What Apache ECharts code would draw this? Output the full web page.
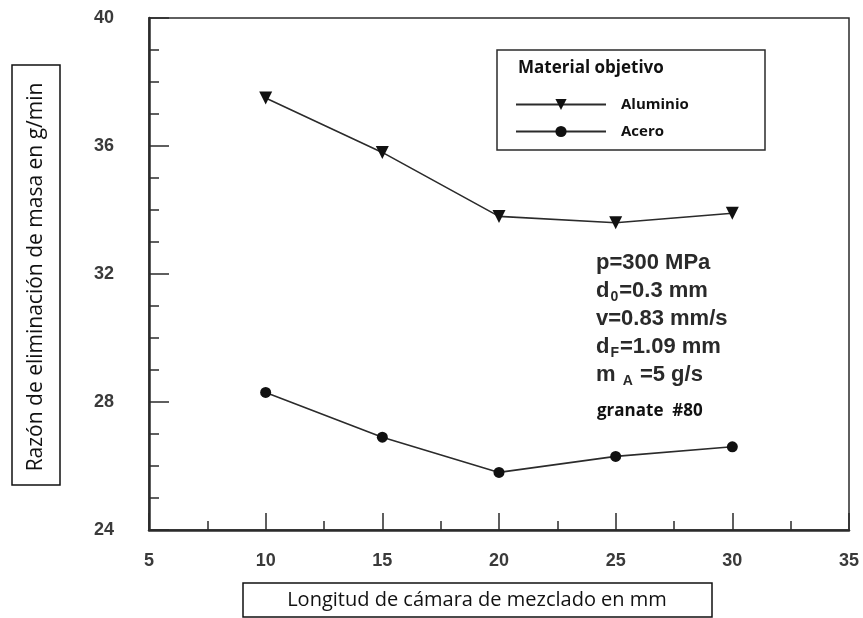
<!DOCTYPE html>
<html>
<head>
<meta charset="utf-8">
<script src="https://cdn.jsdelivr.net/npm/echarts@6/dist/echarts.min.js"></script>
<style>html,body{margin:0;padding:0;background:#fff}#c{width:863px;height:618px}</style>
</head>
<body>
<div id="c"></div>
<script>
// Data
const xValues = [10, 15, 20, 25, 30];
const aluminio = [37.5, 35.8, 33.8, 33.6, 33.9];
const acero = [28.3, 26.9, 25.8, 26.3, 26.6];
const seriesNames = ['Aluminio', 'Acero'];
const xAxisName = 'Longitud de cámara de mezclado en mm';
const yAxisName = 'Razón de eliminación de masa en g/min';
const legendTitle = 'Material objetivo';

const chart = echarts.init(document.getElementById('c'));
const lblFont = { fontFamily: 'Liberation Sans', fontWeight: 'bold', fontSize: 18, color: '#3a3a3a' };
const ink = '#2b2b2b';

chart.setOption({
  animation: false,
  backgroundColor: '#fff',
  grid: { left: 149, top: 18, width: 700, height: 512, show: true, borderColor: ink, borderWidth: 1.5, backgroundColor: 'transparent' },
  xAxis: {
    type: 'value', min: 5, max: 35, interval: 5,
    axisLine: { show: true, lineStyle: { color: ink, width: 2.5 } },
    axisTick: { show: true, inside: true, length: 17, lineStyle: { color: ink, width: 1.5 } },
    minorTick: { show: true, splitNumber: 2, length: 9, lineStyle: { color: ink, width: 1.5 } },
    splitLine: { show: false },
    axisLabel: Object.assign({ margin: 22 }, lblFont)
  },
  yAxis: {
    type: 'value', min: 24, max: 40, interval: 4,
    axisLine: { show: true, lineStyle: { color: ink, width: 2.5 } },
    axisTick: { show: true, inside: true, length: 20, lineStyle: { color: ink, width: 1.5 } },
    minorTick: { show: true, splitNumber: 4, length: 10, lineStyle: { color: ink, width: 1.5 } },
    splitLine: { show: false },
    axisLabel: Object.assign({ margin: 35 }, lblFont)
  },
  legend: {
    orient: 'vertical', left: 510, top: 92, itemWidth: 90, itemHeight: 14, itemGap: 12,
    textStyle: { fontFamily: 'Open Sans', fontWeight: 'bold', fontSize: 15, color: '#111', padding: [0, 0, 0, 10] },
    data: seriesNames
  },
  series: [
    {
      name: seriesNames[0], type: 'line', data: xValues.map((x, i) => [x, aluminio[i]]),
      symbol: 'triangle', symbolRotate: 180, symbolSize: 13,
      lineStyle: { color: ink, width: 1.6 }, itemStyle: { color: '#111' }
    },
    {
      name: seriesNames[1], type: 'line', data: xValues.map((x, i) => [x, acero[i]]),
      symbol: 'circle', symbolSize: 11,
      lineStyle: { color: ink, width: 1.6 }, itemStyle: { color: '#111' }
    }
  ],
  graphic: [
    { type: 'rect', shape: { x: 497, y: 50, width: 268, height: 100 }, style: { fill: 'none', stroke: ink, lineWidth: 1.5 } },
    { type: 'text', left: 518, top: 60, style: { text: legendTitle, font: 'bold 17px "Open Sans"', fill: '#111' } },
    { type: 'rect', shape: { x: 12, y: 65, width: 48, height: 420 }, style: { fill: 'none', stroke: '#111', lineWidth: 1.5 } },
    { type: 'text', x: 36, y: 277, rotation: Math.PI / 2, style: { text: yAxisName, font: '21px "Open Sans"', fill: '#111', align: 'center', verticalAlign: 'middle' } },
    { type: 'rect', shape: { x: 243, y: 583, width: 469, height: 34 }, style: { fill: 'none', stroke: '#111', lineWidth: 1.5 } },
    { type: 'text', x: 477, y: 600, style: { text: xAxisName, font: '20px "Open Sans"', fill: '#111', align: 'center', verticalAlign: 'middle' } },
    {
      type: 'text', left: 596, top: 252,
      style: {
        text: '{a|p=300 MPa}\n{a|d}{s|0}{a|=0.3 mm}\n{a|v=0.83 mm/s}\n{a|d}{s|F}{a|=1.09 mm}\n{a|m }{s|A}{a| =5 g/s}',
        rich: {
          a: { font: 'bold 22px "Liberation Sans"', fill: '#2a2a2a', lineHeight: 28, verticalAlign: 'middle' },
          s: { font: 'bold 14px "Liberation Sans"', fill: '#2a2a2a', lineHeight: 28, padding: [12, 1, 0, 1], verticalAlign: 'middle' }
        }
      }
    },
    { type: 'text', left: 597, top: 403, style: { text: 'granate  #80', font: 'bold 17px "Open Sans"', fill: '#111' } }
  ]
});
</script>
</body>
</html>
